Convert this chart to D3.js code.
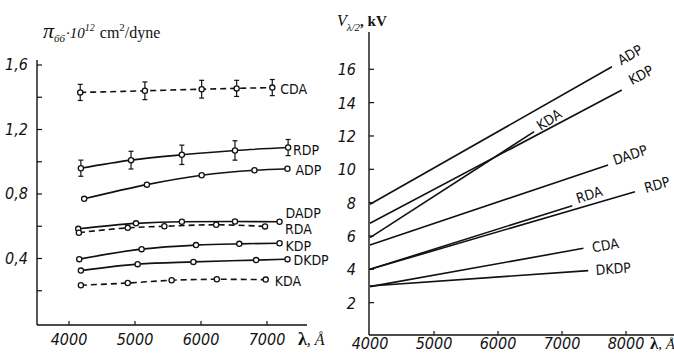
<!DOCTYPE html>
<html>
<head>
<meta charset="utf-8">
<script src="https://cdn.jsdelivr.net/npm/d3@7"></script>
<style>
  body { margin: 0; background: #fff; }
  svg { display: block; }
  .tick-label { font-family: "Liberation Sans Narrow", "DejaVu Sans Condensed", "Liberation Sans", sans-serif; font-style: italic; font-size: 16px; fill: #111; }
  .name { font-family: "Liberation Sans Narrow", "DejaVu Sans Condensed", "Liberation Sans", sans-serif; font-size: 14px; fill: #111; }
  .title { font-family: "Liberation Serif", "DejaVu Serif", serif; fill: #111; }
</style>
</head>
<body>
<div id="chart"></div>
<script>

// ---- left panel: pi66 vs wavelength ----
const leftNames = ['CDA', 'RDP', 'ADP', 'DADP', 'RDA', 'KDP', 'DKDP', 'KDA'];
const leftDashed = [true, false, false, false, true, false, false, true];
const leftLambda = [
	[4170, 5150, 6010, 6540, 7080],
	[4180, 4940, 5710, 6515, 7320],
	[4230, 5180, 6010, 6810, 7310],
	[4140, 5015, 5710, 6515, 7190],
	[4150, 4890, 5445, 6230, 6970],
	[4155, 5100, 5925, 6580, 7190],
	[4180, 5040, 5885, 6835, 7310],
	[4180, 4890, 5555, 6240, 6980]
];
const leftValues = [
	[1.43, 1.44, 1.45, 1.455, 1.46],
	[0.96, 1.01, 1.043, 1.07, 1.088],
	[0.77, 0.858, 0.916, 0.947, 0.957],
	[0.584, 0.618, 0.628, 0.629, 0.628],
	[0.56, 0.59, 0.60, 0.609, 0.599],
	[0.396, 0.458, 0.483, 0.491, 0.495],
	[0.325, 0.365, 0.379, 0.39, 0.396],
	[0.234, 0.248, 0.265, 0.271, 0.269]
];
// error bar half-heights (only CDA and RDP have them)
const leftErrors = [
	[0.05, 0.055, 0.055, 0.05, 0.05],
	[0.05, 0.055, 0.06, 0.06, 0.05],
	null, null, null, null, null, null
];
const leftXTicks = [4000, 5000, 6000, 7000];
const leftYTicks = [0.2, 0.4, 0.6, 0.8, 1.0, 1.2, 1.4, 1.6];
const leftYLabels = ['0,4', '0,8', '1,2', '1,6'];

// ---- right panel: half-wave voltage vs wavelength ----
const rightNames = ['ADP', 'KDP', 'KDA', 'DADP', 'RDA', 'RDP', 'CDA', 'DKDP'];
const rightLambda = [
	[4000, 7780],
	[4000, 7935],
	[4000, 6565],
	[4000, 7720],
	[4000, 7160],
	[4000, 8140],
	[4000, 7335],
	[4000, 7410]
];
const rightValues = [
	[7.9, 16.15],
	[6.76, 14.76],
	[5.9, 12.26],
	[5.46, 10.26],
	[4.0, 7.82],
	[4.0, 8.66],
	[2.96, 5.26],
	[3.0, 3.92]
];
const rightXTicks = [4000, 5000, 6000, 7000, 8000];
const rightYTicks = [2, 4, 6, 8, 10, 12, 14, 16];

// label offsets from each curve's last point (layout only)
const leftLabelOffset = {CDA:[8,6], RDP:[5,7], ADP:[8,6], DADP:[6,-4], RDA:[20,8], KDP:[6,8], DKDP:[6,6], KDA:[9,6]};
const rightLabelOffset = {ADP:[18,-12], KDP:[19,-15], KDA:[15,-12], DADP:[22,-10], RDA:[17,-11], RDP:[22,-7], CDA:[22,-3], DKDP:[25,-2]};

const W = 674, H = 354;
const svg = d3.select('#chart').append('svg').attr('width', W).attr('height', H);

// ===== left =====
const xL = d3.scaleLinear().domain([4000, 7000]).range([69, 267]);
const yL = d3.scaleLinear().domain([0, 1.6]).range([323, 65]);
const gL = svg.append('g');

gL.append('line').attr('x1', 37).attr('x2', 37).attr('y1', 60).attr('y2', 325)
	.attr('stroke', '#111').attr('stroke-width', 1.4);
gL.append('line').attr('x1', 37).attr('x2', 307).attr('y1', 325).attr('y2', 325)
	.attr('stroke', '#111').attr('stroke-width', 1.4);

gL.selectAll('.yt').data(leftYTicks).enter().append('line')
	.attr('x1', 37).attr('x2', 42)
	.attr('y1', d => yL(d)).attr('y2', d => yL(d))
	.attr('stroke', '#111').attr('stroke-width', 1.2);
gL.selectAll('.yl').data(leftYLabels).enter().append('text')
	.attr('class', 'tick-label')
	.attr('x', 28).attr('y', d => yL(+d.replace(',', '.')) + 5)
	.attr('text-anchor', 'end').text(d => d);

gL.selectAll('.xt').data(leftXTicks).enter().append('line')
	.attr('x1', d => xL(d)).attr('x2', d => xL(d))
	.attr('y1', 325).attr('y2', 321)
	.attr('stroke', '#111').attr('stroke-width', 1.2);
gL.selectAll('.xl').data(leftXTicks).enter().append('text')
	.attr('class', 'tick-label')
	.attr('x', d => xL(d)).attr('y', 345)
	.attr('text-anchor', 'middle').text(d => d);

const lineL = d3.line().x(d => xL(d[0])).y(d => yL(d[1])).curve(d3.curveMonotoneX);

leftNames.forEach((name, i) => {
	const pts = leftLambda[i].map((l, j) => [l, leftValues[i][j]]);
	gL.append('path').datum(pts)
		.attr('d', lineL)
		.attr('fill', 'none').attr('stroke', '#111').attr('stroke-width', 1.6)
		.attr('stroke-dasharray', leftDashed[i] ? '6,4' : null);

	if (leftErrors[i]) {
		pts.forEach((p, j) => {
			const e = leftErrors[i][j];
			const x = xL(p[0]);
			gL.append('line').attr('x1', x).attr('x2', x)
				.attr('y1', yL(p[1] - e)).attr('y2', yL(p[1] + e))
				.attr('stroke', '#111').attr('stroke-width', 1.2);
			[p[1] - e, p[1] + e].forEach(v => {
				gL.append('line').attr('x1', x - 2.5).attr('x2', x + 2.5)
					.attr('y1', yL(v)).attr('y2', yL(v))
					.attr('stroke', '#111').attr('stroke-width', 1.2);
			});
		});
	}

	gL.selectAll(null).data(pts).enter().append('circle')
		.attr('cx', d => xL(d[0])).attr('cy', d => yL(d[1]))
		.attr('r', 2.6)
		.attr('fill', '#fff').attr('stroke', '#111').attr('stroke-width', 1.3);

	const last = pts[pts.length - 1];
	const off = leftLabelOffset[name];
	gL.append('text').attr('class', 'name')
		.attr('x', xL(last[0]) + off[0]).attr('y', yL(last[1]) + off[1])
		.text(name);
});

// left title
const tL = gL.append('text').attr('class', 'title').attr('x', 43).attr('y', 38);
tL.append('tspan').attr('font-style', 'italic').attr('font-size', 22).text('π');
tL.append('tspan').attr('font-style', 'italic').attr('font-size', 11).attr('dy', 4).text('66');
tL.append('tspan').attr('font-style', 'italic').attr('font-size', 15).attr('dy', -4).attr('dx', 1).text('·10');
tL.append('tspan').attr('font-style', 'italic').attr('font-size', 10).attr('dy', -7).text('12');
tL.append('tspan').attr('font-size', 16).attr('dy', 7).attr('dx', 5).text('cm');
tL.append('tspan').attr('font-size', 11).attr('dy', -7).text('2');
tL.append('tspan').attr('font-size', 16).attr('dy', 7).text('/dyne');

// left x-axis title
const axL = gL.append('text').attr('class', 'title').attr('x', 298).attr('y', 345)
	.attr('font-size', 18);
axL.append('tspan').attr('font-weight', 'bold').text('λ');
axL.append('tspan').attr('font-style', 'italic').attr('font-size', 16).text(', Å');

// ===== right =====
const xR = d3.scaleLinear().domain([4000, 8000]).range([370, 626]);
const yR = d3.scaleLinear().domain([0, 16]).range([336, 69.3]);
const gR = svg.append('g');

gR.append('line').attr('x1', 369).attr('x2', 369).attr('y1', 32).attr('y2', 335)
	.attr('stroke', '#111').attr('stroke-width', 1.4);
gR.append('line').attr('x1', 369).attr('x2', 674).attr('y1', 335).attr('y2', 335)
	.attr('stroke', '#111').attr('stroke-width', 1.4);

gR.selectAll('.yt').data(rightYTicks).enter().append('line')
	.attr('x1', 369).attr('x2', 374)
	.attr('y1', d => yR(d)).attr('y2', d => yR(d))
	.attr('stroke', '#111').attr('stroke-width', 1.2);
gR.selectAll('.yl').data(rightYTicks).enter().append('text')
	.attr('class', 'tick-label')
	.attr('x', 356).attr('y', d => yR(d) + 6)
	.attr('text-anchor', 'end').text(d => d);

gR.selectAll('.xt').data(rightXTicks.slice(1)).enter().append('line')
	.attr('x1', d => xR(d)).attr('x2', d => xR(d))
	.attr('y1', 335).attr('y2', 331)
	.attr('stroke', '#111').attr('stroke-width', 1.2);
gR.selectAll('.xl').data(rightXTicks).enter().append('text')
	.attr('class', 'tick-label')
	.attr('x', d => xR(d)).attr('y', 349)
	.attr('font-size', 15)
	.attr('text-anchor', 'middle').text(d => d);

const lineR = d3.line().x(d => xR(d[0])).y(d => yR(d[1]));

rightNames.forEach((name, i) => {
	const pts = rightLambda[i].map((l, j) => [l, rightValues[i][j]]);
	gR.append('path').datum(pts)
		.attr('d', lineR)
		.attr('fill', 'none').attr('stroke', '#111').attr('stroke-width', 1.6);

	const a = pts[0], b = pts[pts.length - 1];
	const ang = Math.atan2(yR(b[1]) - yR(a[1]), xR(b[0]) - xR(a[0])) * 180 / Math.PI;
	const off = rightLabelOffset[name];
	const cx = xR(b[0]) + off[0], cy = yR(b[1]) + off[1];
	gR.append('text').attr('class', 'name')
		.attr('text-anchor', 'middle').attr('dominant-baseline', 'central')
		.attr('transform', `translate(${cx},${cy}) rotate(${ang})`)
		.text(name);
});

// right title
const tR = gR.append('text').attr('class', 'title').attr('x', 337).attr('y', 26);
tR.append('tspan').attr('font-style', 'italic').attr('font-size', 16).text('V');
tR.append('tspan').attr('font-style', 'italic').attr('font-size', 11).attr('dy', 5).text('λ/2');
tR.append('tspan').attr('font-weight', 'bold').attr('font-size', 15).attr('dy', -5).text(', kV');

// right x-axis title
const axR = gR.append('text').attr('class', 'title').attr('x', 650).attr('y', 349)
	.attr('font-size', 17);
axR.append('tspan').attr('font-weight', 'bold').text('λ');
axR.append('tspan').attr('font-style', 'italic').attr('font-size', 15).text(', Å');

</script>
</body>
</html>
